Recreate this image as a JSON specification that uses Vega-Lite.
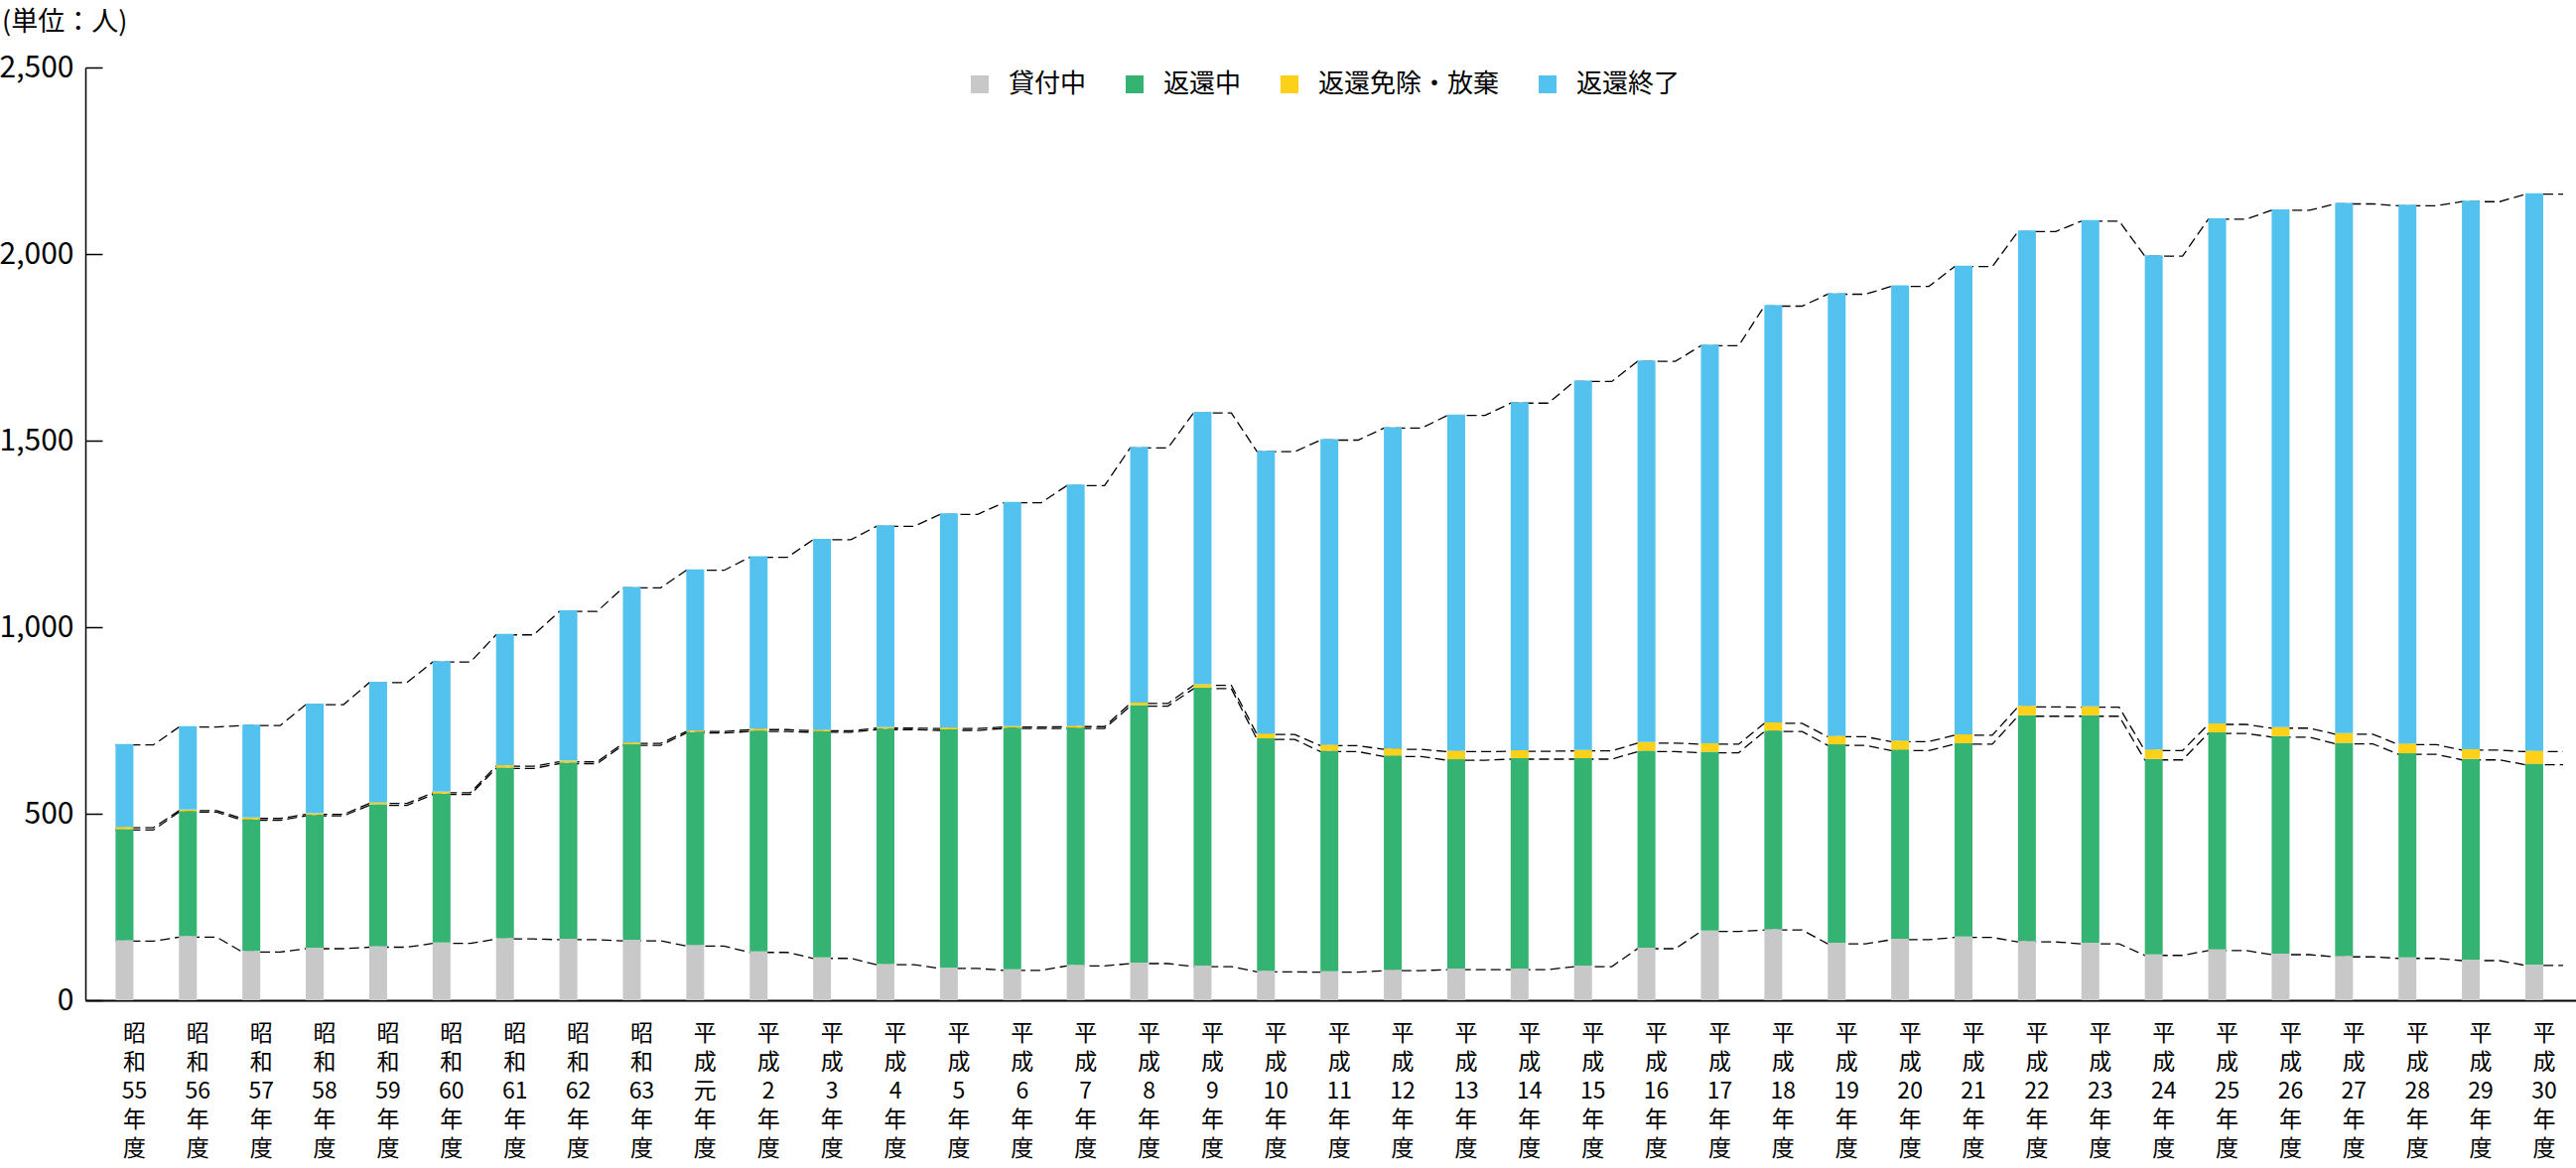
{
  "$schema": "https://vega.github.io/schema/vega-lite/v6.json",
  "width": 2509,
  "height": 940,
  "autosize": {"type": "none"},
  "padding": {"left": 86, "top": 68, "right": 0, "bottom": 169},
  "background": "white",
  "title": {"text": "(単位：人)", "anchor": "start", "frame": "group", "dx": -84, "offset": 16, "fontSize": 27, "font": "Noto Sans CJK JP", "fontWeight": "normal", "color": "black"},
  "data": {"values": [
    {"年度": "昭和55年度", "fy": 1980, "貸付中": 161, "返還中": 298, "返還免除・放棄": 6, "返還終了": 222},
    {"年度": "昭和56年度", "fy": 1981, "貸付中": 172, "返還中": 335, "返還免除・放棄": 4, "返還終了": 224},
    {"年度": "昭和57年度", "fy": 1982, "貸付中": 132, "返還中": 353, "返還免除・放棄": 5, "返還終了": 249},
    {"年度": "昭和58年度", "fy": 1983, "貸付中": 141, "返還中": 356, "返還免除・放棄": 4, "返還終了": 294},
    {"年度": "昭和59年度", "fy": 1984, "貸付中": 145, "返還中": 380, "返還免除・放棄": 5, "返還終了": 324},
    {"年度": "昭和60年度", "fy": 1985, "貸付中": 155, "返還中": 399, "返還免除・放棄": 5, "返還終了": 350},
    {"年度": "昭和61年度", "fy": 1986, "貸付中": 167, "返還中": 457, "返還免除・放棄": 6, "返還終了": 352},
    {"年度": "昭和62年度", "fy": 1987, "貸付中": 165, "返還中": 472, "返還免除・放棄": 5, "返還終了": 403},
    {"年度": "昭和63年度", "fy": 1988, "貸付中": 162, "返還中": 524, "返還免除・放棄": 5, "返還終了": 417},
    {"年度": "平成元年度", "fy": 1989, "貸付中": 148, "返還中": 571, "返還免除・放棄": 4, "返還終了": 432},
    {"年度": "平成2年度", "fy": 1990, "貸付中": 131, "返還中": 592, "返還免除・放棄": 5, "返還終了": 462},
    {"年度": "平成3年度", "fy": 1991, "貸付中": 115, "返還中": 606, "返還免除・放棄": 4, "返還終了": 512},
    {"年度": "平成4年度", "fy": 1992, "貸付中": 98, "返還中": 630, "返還免除・放棄": 4, "返還終了": 541},
    {"年度": "平成5年度", "fy": 1993, "貸付中": 88, "返還中": 638, "返還免除・放棄": 5, "返還終了": 574},
    {"年度": "平成6年度", "fy": 1994, "貸付中": 83, "返還中": 648, "返還免除・放棄": 4, "返還終了": 601},
    {"年度": "平成7年度", "fy": 1995, "貸付中": 95, "返還中": 636, "返還免除・放棄": 5, "返還終了": 646},
    {"年度": "平成8年度", "fy": 1996, "貸付中": 101, "返還中": 690, "返還免除・放棄": 7, "返還終了": 685},
    {"年度": "平成9年度", "fy": 1997, "貸付中": 93, "返還中": 745, "返還免除・放棄": 9, "返還終了": 730},
    {"年度": "平成10年度", "fy": 1998, "貸付中": 79, "返還中": 623, "返還免除・放棄": 13, "返還終了": 758},
    {"年度": "平成11年度", "fy": 1999, "貸付中": 78, "返還中": 591, "返還免除・放棄": 16, "返還終了": 819},
    {"年度": "平成12年度", "fy": 2000, "貸付中": 82, "返還中": 574, "返還免除・放棄": 19, "返還終了": 861},
    {"年度": "平成13年度", "fy": 2001, "貸付中": 85, "返還中": 561, "返還免除・放棄": 23, "返還終了": 901},
    {"年度": "平成14年度", "fy": 2002, "貸付中": 85, "返還中": 564, "返還免除・放棄": 21, "返還終了": 933},
    {"年度": "平成15年度", "fy": 2003, "貸付中": 93, "返還中": 556, "返還免除・放棄": 22, "返還終了": 990},
    {"年度": "平成16年度", "fy": 2004, "貸付中": 141, "返還中": 528, "返還免除・放棄": 23, "返還終了": 1023},
    {"年度": "平成17年度", "fy": 2005, "貸付中": 187, "返還中": 479, "返還免除・放棄": 23, "返還終了": 1068},
    {"年度": "平成18年度", "fy": 2006, "貸付中": 191, "返還中": 532, "返還免除・放棄": 22, "返還終了": 1118},
    {"年度": "平成19年度", "fy": 2007, "貸付中": 154, "返還中": 532, "返還免除・放棄": 23, "返還終了": 1186},
    {"年度": "平成20年度", "fy": 2008, "貸付中": 165, "返還中": 507, "返還免除・放棄": 24, "返還終了": 1220},
    {"年度": "平成21年度", "fy": 2009, "貸付中": 171, "返還中": 518, "返還免除・放棄": 24, "返還終了": 1256},
    {"年度": "平成22年度", "fy": 2010, "貸付中": 159, "返還中": 605, "返還免除・放棄": 25, "返還終了": 1274},
    {"年度": "平成23年度", "fy": 2011, "貸付中": 154, "返還中": 610, "返還免除・放棄": 24, "返還終了": 1303},
    {"年度": "平成24年度", "fy": 2012, "貸付中": 123, "返還中": 524, "返還免除・放棄": 25, "返還終了": 1325},
    {"年度": "平成25年度", "fy": 2013, "貸付中": 136, "返還中": 582, "返還免除・放棄": 24, "返還終了": 1354},
    {"年度": "平成26年度", "fy": 2014, "貸付中": 125, "返還中": 583, "返還免除・放棄": 24, "返還終了": 1388},
    {"年度": "平成27年度", "fy": 2015, "貸付中": 119, "返還中": 571, "返還免除・放棄": 26, "返還終了": 1421},
    {"年度": "平成28年度", "fy": 2016, "貸付中": 115, "返還中": 547, "返還免除・放棄": 26, "返還終了": 1444},
    {"年度": "平成29年度", "fy": 2017, "貸付中": 109, "返還中": 538, "返還免除・放棄": 26, "返還終了": 1470},
    {"年度": "平成30年度", "fy": 2018, "貸付中": 96, "返還中": 538, "返還免除・放棄": 35, "返還終了": 1494}
  ]},
  "transform": [
    {"fold": ["貸付中", "返還中", "返還免除・放棄", "返還終了"], "as": ["key", "value"]},
    {"window": [{"op": "sum", "field": "value", "as": "cum"}], "groupby": ["年度"], "sort": [{"field": "key", "order": "ascending"}], "frame": [null, 0]}
  ],
  "encoding": {
    "x": {
      "field": "年度", "type": "ordinal",
      "sort": {"field": "fy", "op": "min"},
      "scale": {"paddingInner": 0.405, "paddingOuter": 0.34, "align": 0.7},
      "axis": {
        "title": null,
        "labelAngle": 0,
        "labelExpr": "split(replace(replace(datum.label, regexp('([^0-9])(?!$)', 'g'), '$1|'), regexp('([0-9])(?=[^0-9|])', 'g'), '$1|'), '|')"
      }
    }
  },
  "layer": [
    {
      "transform": [{"calculate": "[0, 1]", "as": "side"}, {"flatten": ["side"]}],
      "mark": {"type": "line", "color": "black", "strokeWidth": 1.3, "strokeDash": [10, 5], "yOffset": 1},
      "encoding": {
        "y": {"field": "cum", "type": "quantitative", "scale": {"domain": [0, 2500], "nice": false}, "axis": {"title": null, "values": [0, 500, 1000, 1500, 2000, 2500], "format": ",d"}},
        "xOffset": {"field": "side", "type": "quantitative", "scale": {"domain": [0, 1], "range": [0, 38]}},
        "detail": {"field": "key"},
        "order": [{"field": "fy", "type": "quantitative"}, {"field": "side", "type": "quantitative"}]
      }
    },
    {
      "mark": {"type": "bar"},
      "encoding": {
        "y": {"field": "value", "type": "quantitative", "stack": "zero", "scale": {"domain": [0, 2500], "nice": false}, "axis": {"title": null, "values": [0, 500, 1000, 1500, 2000, 2500], "format": ",d"}},
        "color": {
          "field": "key", "type": "nominal",
          "scale": {"domain": ["貸付中", "返還中", "返還免除・放棄", "返還終了"], "range": ["#C8C8C8", "#34B373", "#FDD118", "#53C2EF"]},
          "legend": {"orient": "none", "legendX": 888, "legendY": 4, "direction": "horizontal", "title": null, "symbolType": "square", "symbolSize": 324, "symbolStrokeWidth": 0, "symbolOpacity": 1, "labelFontSize": 26, "labelOffset": 16, "columnPadding": 35, "padding": 0, "labelLimit": 400, "labelColor": "black"}
        },
        "order": {"field": "key", "sort": "ascending"}
      }
    }
  ],
  "config": {
    "font": "Noto Sans CJK JP",
    "view": {"stroke": null},
    "axisY": {"domainColor": "black", "domainWidth": 1.5, "tickColor": "black", "tickWidth": 1.5, "tickSize": -17, "labelPadding": 29, "labelFontSize": 30, "labelColor": "black", "grid": false},
    "axisX": {"domainColor": "black", "domainWidth": 2, "ticks": false, "labelFontSize": 23, "labelLineHeight": 29, "labelBaseline": "top", "labelAlign": "center", "labelPadding": 22, "labelColor": "black", "labelOverlap": false, "labelLimit": 400, "grid": false}
  }
}
